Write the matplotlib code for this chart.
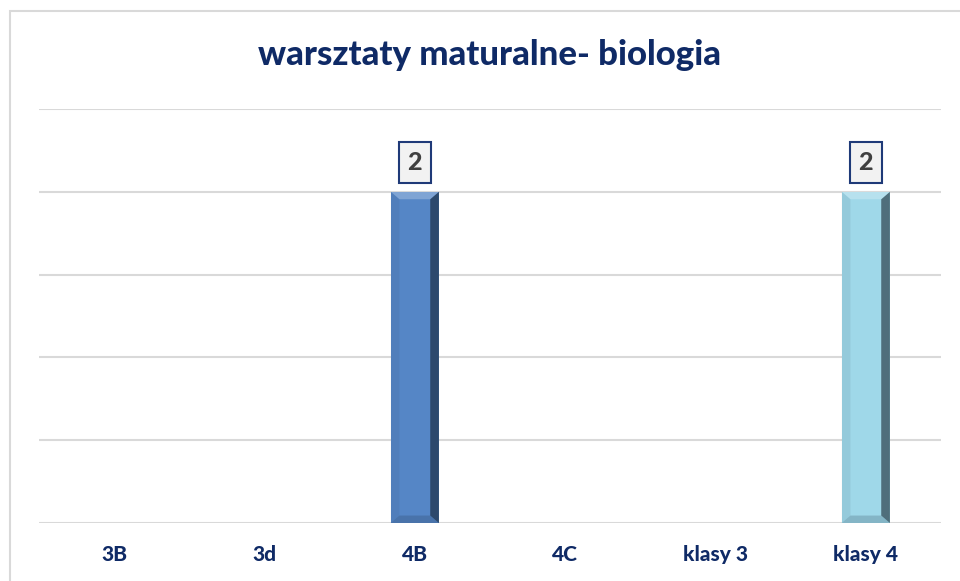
import matplotlib.pyplot as plt
from matplotlib.patches import Polygon, Rectangle

categories = ['3B', '3d', '4B', '4C', 'klasy 3', 'klasy 4']
values = [0, 0, 2, 0, 0, 2]
bar_colors = ['#4f81bd', '#4f81bd', '#5586c6', '#4f81bd', '#92cddc', '#9fd8e9']

navy = '#0f2a66'
plt.rcParams['font.family'] = ['Lato', 'DejaVu Sans']

fig = plt.figure(figsize=(9.6, 5.81), dpi=100)
# outer chart frame
fig.patches.append(Rectangle((10 / 960, -0.1), 1.0, 1 - 11 / 581 + 0.1, transform=fig.transFigure,
                             fill=False, edgecolor='#d9d9d9', linewidth=1.5))

ax = fig.add_axes([39 / 960, 1 - 523 / 581, (941 - 39) / 960, (523 - 109) / 581])
x = list(range(len(categories)))
width = 0.32
bars = ax.bar(x, values, width=width, color=bar_colors, zorder=3)

# bevel effect on each bar
for b in bars:
    h = b.get_height()
    if h <= 0:
        continue
    x0, w = b.get_x(), b.get_width()
    bx = w * 0.18
    by = 0.045
    ax.add_patch(Polygon([(x0 + w - bx, by), (x0 + w, 0), (x0 + w, h), (x0 + w - bx, h - by)],
                         closed=True, facecolor='#0d1822', alpha=0.55, linewidth=0, zorder=4))
    ax.add_patch(Polygon([(x0, h), (x0 + w, h), (x0 + w - bx, h - by), (x0 + bx, h - by)],
                         closed=True, facecolor='white', alpha=0.25, linewidth=0, zorder=4))
    ax.add_patch(Polygon([(x0, 0), (x0 + w, 0), (x0 + w - bx, by), (x0 + bx, by)],
                         closed=True, facecolor='#1b2a3a', alpha=0.2, linewidth=0, zorder=4))
    ax.add_patch(Polygon([(x0, 0), (x0 + bx, by), (x0 + bx, h - by), (x0, h)],
                         closed=True, facecolor='#1b2a3a', alpha=0.08, linewidth=0, zorder=4))
    ax.annotate(f'{h:g}', (b.get_x() + w / 2, h), xytext=(0, 21), textcoords='offset points',
                ha='center', va='center', fontsize=18, fontweight='black', color='#404040',
                bbox=dict(boxstyle='square,pad=0.35', facecolor='#f2f2f2', edgecolor='#1f3a78', linewidth=1.5),
                zorder=5)

ax.set_xlim(-0.5, len(categories) - 0.5)
ax.set_ylim(0, 2.5)
ax.set_yticks([0, 0.5, 1, 1.5, 2, 2.5])
ax.yaxis.grid(True, color='#d9d9d9', linewidth=1.5, zorder=0)
ax.set_yticklabels([])
ax.tick_params(axis='y', length=0)
ax.tick_params(axis='x', length=0, pad=16)
ax.set_xticks(x)
ax.set_xticklabels(categories, fontsize=15, fontweight='black', color=navy)
for s in ax.spines.values():
    s.set_visible(False)

fig.text(489 / 960, 1 - 55 / 581, 'warsztaty maturalne- biologia', ha='center', va='center',
         fontsize=25, fontweight='black', color=navy)

plt.savefig('out.png')
